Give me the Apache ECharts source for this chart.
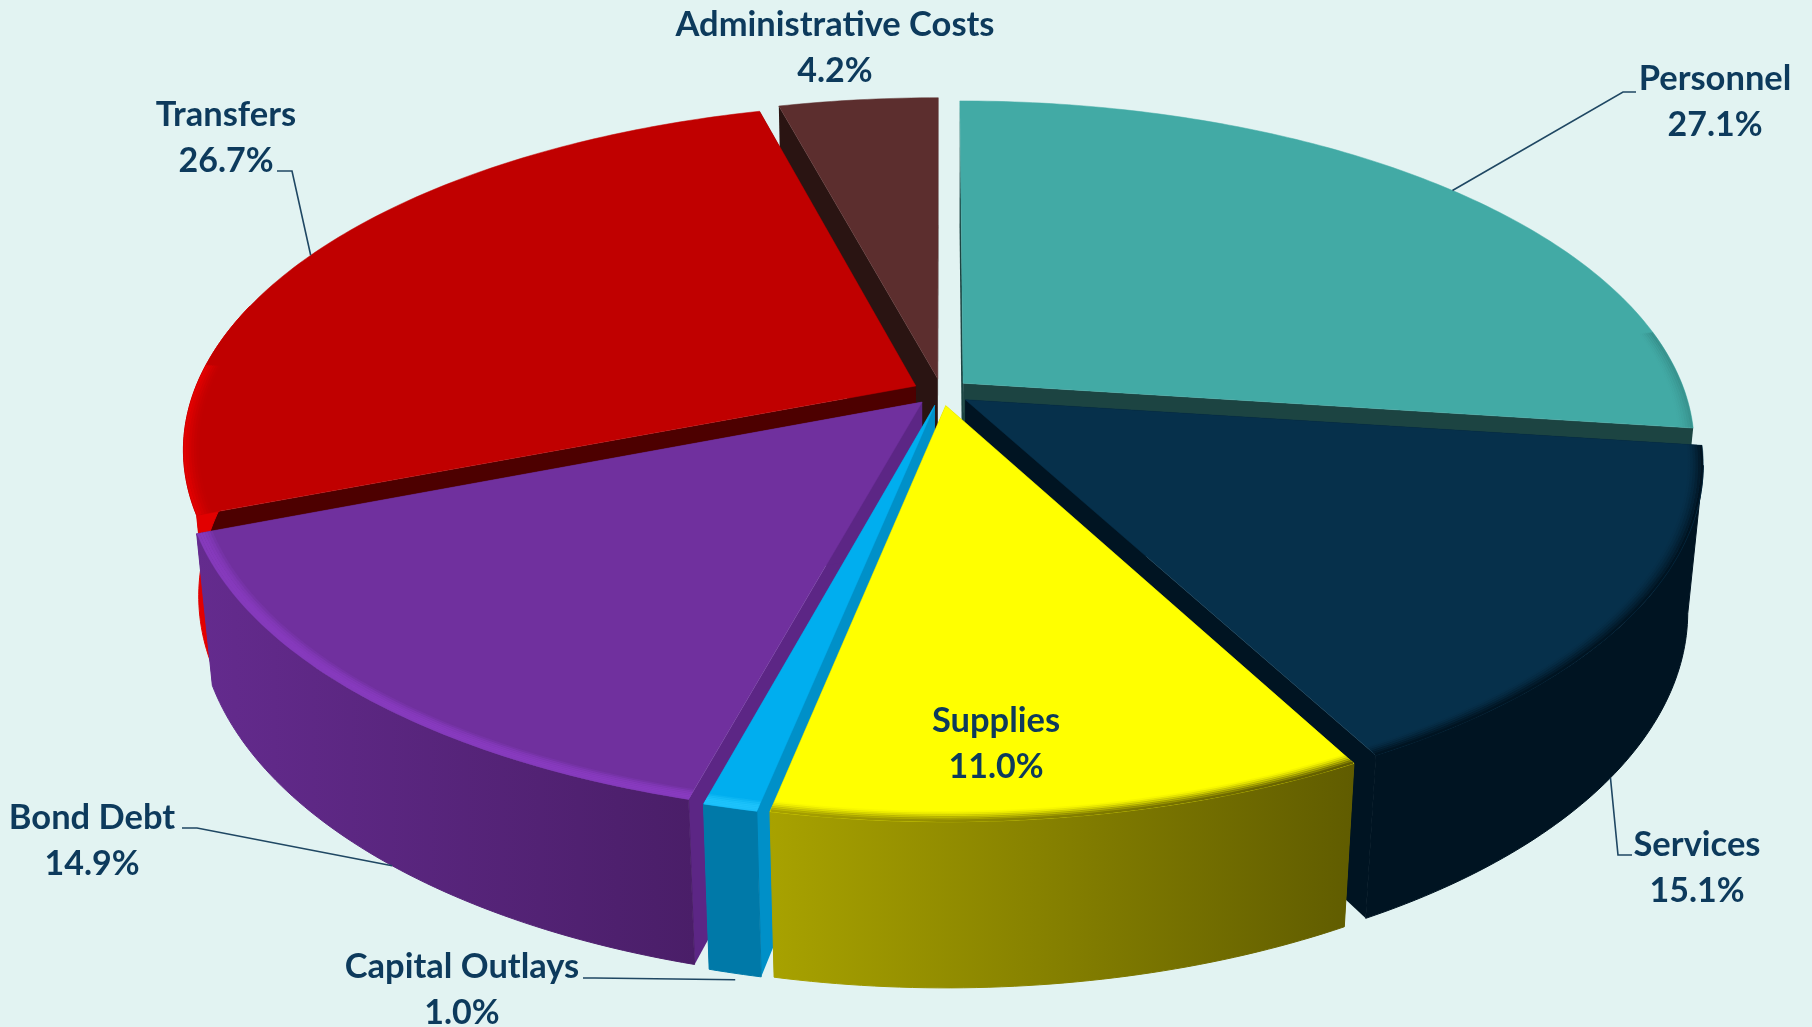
<!DOCTYPE html>
<html><head><meta charset="utf-8">
<style>html,body{margin:0;padding:0;background:#e2f3f2}#c{width:1812px;height:1027px}</style>
<script src="https://cdn.jsdelivr.net/npm/echarts@6/dist/echarts.min.js"></script></head>
<body><div id="c"></div>
<script>
const categories = ['Personnel','Services','Supplies','Capital Outlays','Bond Debt','Transfers','Administrative Costs'];
const shares = [27.1,15.1,11.0,1.0,14.9,26.7,4.2];

// styling, per category
const topColors  = ['#42aaa5','#06304b','#ffff00','#00aeef','#70309e','#c00000','#5c2e2e'];
const wallFrom   = ['#2f7f7b','#001422','#a8a200','#0079a8','#642b8e','#e20000','#3a1c1c'];
const wallTo     = ['#2f7f7b','#001422','#605c00','#0079a8','#4a1e68','#e20000','#3a1c1c'];
const cutColors  = ['#1c4442','#001422','#8a8500','#0090c8','#5c2685','#4d0000','#2a1412'];
const rimColors  = [null,null,null,'#20c4fc','#8a3cc2',null,null];
const rimStrength= [.5,1,1,1,1,1,0];
const drawOrder  = [1,3,6,5,4,2,0]; // painter's rank of each category (back = low)
// layout
const labelCenters = [[1715,79],[1697,845],[996,721],[462,967],[92,818],[226,115],[835,25]];
const leaderSlice  = [[.51,0,[1623,92],[1636,92]],[.52,1,[1618,855],[1632,855]],null,[.5,1.04,[595,978],[583,978]],[.46,1,[197,828],[182,828]],[.48,0,[292,171],[277,171]],null];
const G = {cx:941.5, cy:392, R:722, v:336, k:.18, h:147, m:.02, e:.04, bevel:.02};
const ink = '#0d3a5c', leaderInk = '#1f4763';

const total = shares.reduce((a,b)=>a+b,0);
const starts = []; shares.reduce((a,b,i)=>{starts[i]=a; return a+b;},0);
const ang = s => s/total*2*Math.PI;

function proj(dx,dy,z){
  const w = 1 - G.k*dy + G.m*z;
  return [G.cx + G.R*dx/w, G.cy + (G.v*dy + G.h*z)/w];
}
function renderItem(params, api){
  const i = params.dataIndex;
  const a0 = ang(starts[i]), a1 = ang(starts[i]+shares[i]), mid=(a0+a1)/2;
  const ex = G.e*Math.sin(mid), ey = -G.e*Math.cos(mid);
  const P = (a,r,z)=>proj(ex+r*Math.sin(a), ey-r*Math.cos(a), z);
  const steps = Math.max(6, Math.ceil((a1-a0)/0.015));
  const arc = (r,z,from=a0,to=a1)=>{const o=[];const n=Math.max(2,Math.ceil(steps*(to-from)/(a1-a0)));for(let j=0;j<=n;j++)o.push(P(from+(to-from)*j/n,r,z));return o;};
  const base = drawOrder[i]*100;
  const children = [];
  const fullWall = arc(1,0).concat(arc(1,1).reverse());
  const xs = fullWall.map(p=>p[0]);
  const grad = new echarts.graphic.LinearGradient(Math.min(...xs),0,Math.max(...xs),0,[{offset:0,color:wallFrom[i]},{offset:1,color:wallTo[i]}],true);
  // cut faces
  [a0,a1].forEach((a,n)=>{
    children.push({type:'polygon',z2:base+1+n,shape:{points:[P(a,0,0),P(a,1,0),P(a,1,1),P(a,0,1)]},style:{fill:cutColors[i]}});
  });
  // outer wall: only the part of the rim that faces the viewer
  const wf = Math.max(a0, Math.PI*.56), wt = Math.min(a1, Math.PI*1.58);
  if (wt>wf) {
    const wallPts = arc(1,0,wf,wt).concat(arc(1,1,wf,wt).reverse());
    children.push({type:'polygon',z2:base+5,shape:{points:wallPts},style:{fill:grad,stroke:grad,lineWidth:1}});
  }
  // top face
  children.push({type:'polygon',z2:base+6,shape:{points:[P(a0,0,0)].concat(arc(1,0))},style:{fill:topColors[i],stroke:topColors[i],lineWidth:.5}});
  // rim bevel on the visible (front) part of the rim
  const from = Math.max(a0, Math.PI*.45), to = Math.min(a1, Math.PI*1.52);
  if (to>from && rimStrength[i]>0) {
    const N=6;
    for(let t=1;t<=N;t++){
      const f=t/N, r=1-G.bevel*(1-f)-.002;
      children.push({type:'polyline',z2:base+7+t,shape:{points:arc(r,0,from,to)},
        style:{fill:null,stroke:rimColors[i]||grad,lineWidth:2.6,opacity:rimStrength[i]*(rimColors[i]?Math.sin(f*Math.PI*.62)*.85:Math.pow(f,1.6))}});
    }
  }
  // leader line
  const L = leaderSlice[i];
  if(L){
    children.push({type:'polyline',z2:9000,shape:{points:[P(a0+(a1-a0)*L[0],1,L[1]),L[2],L[3]]},
      style:{fill:null,stroke:leaderInk,lineWidth:1.6}});
  }
  // label
  const c = labelCenters[i];
  children.push({type:'text',z2:9500,style:{x:c[0],y:c[1],text:categories[i],fill:ink,font:'bold 34.5px Lato',textAlign:'center',textVerticalAlign:'middle'}});
  children.push({type:'text',z2:9500,style:{x:c[0],y:c[1]+46,text:shares[i].toFixed(1)+'%',fill:ink,font:'bold 34px Lato',textAlign:'center',textVerticalAlign:'middle'}});
  return {type:'group',children};
}
const chart = echarts.init(document.getElementById('c'),null,{renderer:'canvas'});
chart.setOption({
  backgroundColor:'#e2f3f2', animation:false,
  series:[{type:'custom',coordinateSystem:'none',renderItem,
    data:categories.map((c,i)=>({name:c,value:[i,shares[i]]}))}]
});
</script></body></html>
